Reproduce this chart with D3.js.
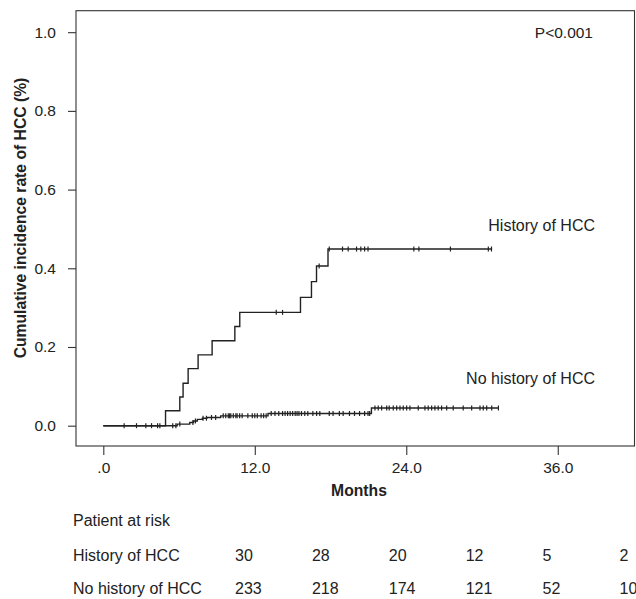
<!DOCTYPE html>
<html>
<head>
<meta charset="utf-8">
<title>Cumulative incidence of HCC</title>
<script src="https://d3js.org/d3.v7.min.js"></script>
<style>
  body { margin: 0; background: #fff; }
  text { font-family: "Liberation Sans", Arial, Helvetica, sans-serif; fill: #222; }
</style>
</head>
<body>
<svg id="mainsvg" width="636" height="599"></svg>
<script>
// ---------- data ----------
// History of HCC: event times (months) and cumulative rate after each event
const histEventTimes = [4.93, 6.06, 6.32, 6.72, 7.51, 8.62, 10.42, 10.81, 15.62, 16.49, 16.89, 17.8];
const histEventRates = [0.038, 0.073, 0.108, 0.145, 0.180, 0.216, 0.252, 0.288, 0.326, 0.366, 0.406, 0.449];
const histEnd = 30.8;
const histCensored = [13.7, 14.2, 17.1, 17.9, 18.95, 19.4, 20.06, 20.4, 20.7, 20.97, 24.6, 25.0, 27.5, 30.5, 30.75];

// No history of HCC
const noHistEventTimes = [5.85, 6.85, 7.15, 7.45, 7.85, 8.2, 9.3, 13.05, 21.24];
const noHistEventRates = [0.004, 0.008, 0.012, 0.016, 0.019, 0.021, 0.025, 0.031, 0.045];
const noHistEnd = 31.3;
const noHistCensored = [1.65, 2.63, 3.37, 3.82, 4.3, 4.48, 5.5, 5.75, 6.06, 7.1, 7.3, 7.9, 8.17, 8.57, 8.9,
  9.5, 9.7, 9.9, 10.0, 10.1, 10.3, 10.5, 10.6, 10.8, 11.0, 11.45, 11.8, 12.0, 12.2, 12.5, 12.7, 12.9,
  13.3, 13.6, 13.9, 14.2, 14.4, 14.6, 14.8, 15.0, 15.2, 15.35, 15.5, 15.7, 15.96, 16.2, 16.6, 16.9, 17.15,
  17.9, 18.2, 18.7, 19.0, 19.5, 19.9, 20.3, 20.7, 20.97, 21.1,
  21.52, 21.78, 22.05, 22.45, 22.65, 22.97, 23.24, 23.5, 23.76, 24.03, 24.29, 24.95, 25.48, 25.74,
  26.01, 26.27, 26.53, 26.8, 27.2, 27.72, 28.51, 29.18, 29.84, 30.1, 30.37, 30.77, 31.3];

// axis ticks
const xTicks = [0, 12, 24, 36];
const yTicks = [0, 0.2, 0.4, 0.6, 0.8, 1.0];

// patients at risk table
const riskTimes = [0, 6, 12, 18, 24, 30];
const groupNames = ["History of HCC", "No history of HCC"];
const histRisk = [30, 28, 20, 12, 5, 2];
const noHistRisk = [233, 218, 174, 121, 52, 10];

// ---------- canvas ----------
const svg = d3.select("#mainsvg");
const margin = {top: 10.7, right: 1.5, bottom: 153, left: 76};
const width = +svg.attr("width"), height = +svg.attr("height");
const innerW = width - margin.left - margin.right;
const innerH = height - margin.top - margin.bottom;

const x = d3.scaleLinear().domain([-2.163, 42.08]).range([0, innerW]);
const y = d3.scaleLinear().domain([-0.0516, 1.0546]).range([innerH, 0]);

const g = svg.append("g").attr("transform", `translate(${margin.left},${margin.top})`);

// frame
g.append("rect")
  .attr("x", 0).attr("y", 0)
  .attr("width", innerW).attr("height", innerH)
  .attr("fill", "none").attr("stroke", "#333").attr("stroke-width", 1.1);

// axes
const xAxis = g.append("g")
  .attr("transform", `translate(0,${innerH})`)
  .call(d3.axisBottom(x).tickValues(xTicks).tickSize(9).tickPadding(7)
    .tickFormat(d => d === 0 ? ".0" : d3.format(".1f")(d)));
const yAxis = g.append("g")
  .call(d3.axisLeft(y).tickValues(yTicks).tickSize(8).tickPadding(12)
    .tickFormat(d3.format(".1f")));
[xAxis, yAxis].forEach(a => {
  a.select(".domain").remove();
  a.selectAll(".tick line").attr("stroke", "#333").attr("stroke-width", 1.1);
  a.selectAll(".tick text").attr("font-size", 15.5).attr("fill", "#222")
    .style("font-family", "'Liberation Sans', Arial, sans-serif");
});

// axis titles
svg.append("text")
  .attr("x", 359).attr("y", 496)
  .attr("text-anchor", "middle").attr("font-size", 15.7).attr("font-weight", "bold")
  .text("Months");
svg.append("text")
  .attr("transform", "translate(25.5,218) rotate(-90)")
  .attr("text-anchor", "middle").attr("font-size", 15.7).attr("font-weight", "bold")
  .text("Cumulative incidence rate of HCC (%)");

// ---------- step curves ----------
function stepPoints(times, rates, end) {
  const pts = [[0, 0]];
  times.forEach((t, i) => pts.push([t, rates[i]]));
  pts.push([end, rates[rates.length - 1]]);
  return pts;
}
function rateAt(times, rates, t) {
  let r = 0;
  times.forEach((tt, i) => { if (tt <= t) r = rates[i]; });
  return r;
}
const line = d3.line().x(d => x(d[0])).y(d => y(d[1])).curve(d3.curveStepAfter);

const curves = [
  {times: histEventTimes, rates: histEventRates, end: histEnd, cens: histCensored},
  {times: noHistEventTimes, rates: noHistEventRates, end: noHistEnd, cens: noHistCensored}
];

curves.forEach(c => {
  g.append("path")
    .datum(stepPoints(c.times, c.rates, c.end))
    .attr("d", line)
    .attr("fill", "none").attr("stroke", "#222").attr("stroke-width", 1.4);
  g.append("g").selectAll("line")
    .data(c.cens).join("line")
    .attr("x1", d => x(d)).attr("x2", d => x(d))
    .attr("y1", d => y(rateAt(c.times, c.rates, d)) - 2.5)
    .attr("y2", d => y(rateAt(c.times, c.rates, d)) + 2.5)
    .attr("stroke", "#222").attr("stroke-width", 1.2);
});

// in-plot labels
svg.append("text").attr("x", 593).attr("y", 38).attr("text-anchor", "end")
  .attr("font-size", 15.5).text("P<0.001");
svg.append("text").attr("x", 595).attr("y", 231).attr("text-anchor", "end")
  .attr("font-size", 16).text(groupNames[0]);
svg.append("text").attr("x", 595).attr("y", 384).attr("text-anchor", "end")
  .attr("font-size", 16).text(groupNames[1]);

// ---------- patients at risk ----------
const col = d3.scaleLinear().domain([0, 30]).range([235, 619.5]);
const rowY = [560.7, 594];

svg.append("text").attr("x", 73).attr("y", 525.7).attr("font-size", 16).text("Patient at risk");

[histRisk, noHistRisk].forEach((vals, r) => {
  svg.append("text").attr("x", 73).attr("y", rowY[r]).attr("font-size", 16).text(groupNames[r]);
  svg.append("g").selectAll("text")
    .data(vals).join("text")
    .attr("x", (d, i) => col(riskTimes[i]))
    .attr("y", rowY[r])
    .attr("font-size", 16)
    .text(d => d);
});
</script>
</body>
</html>
